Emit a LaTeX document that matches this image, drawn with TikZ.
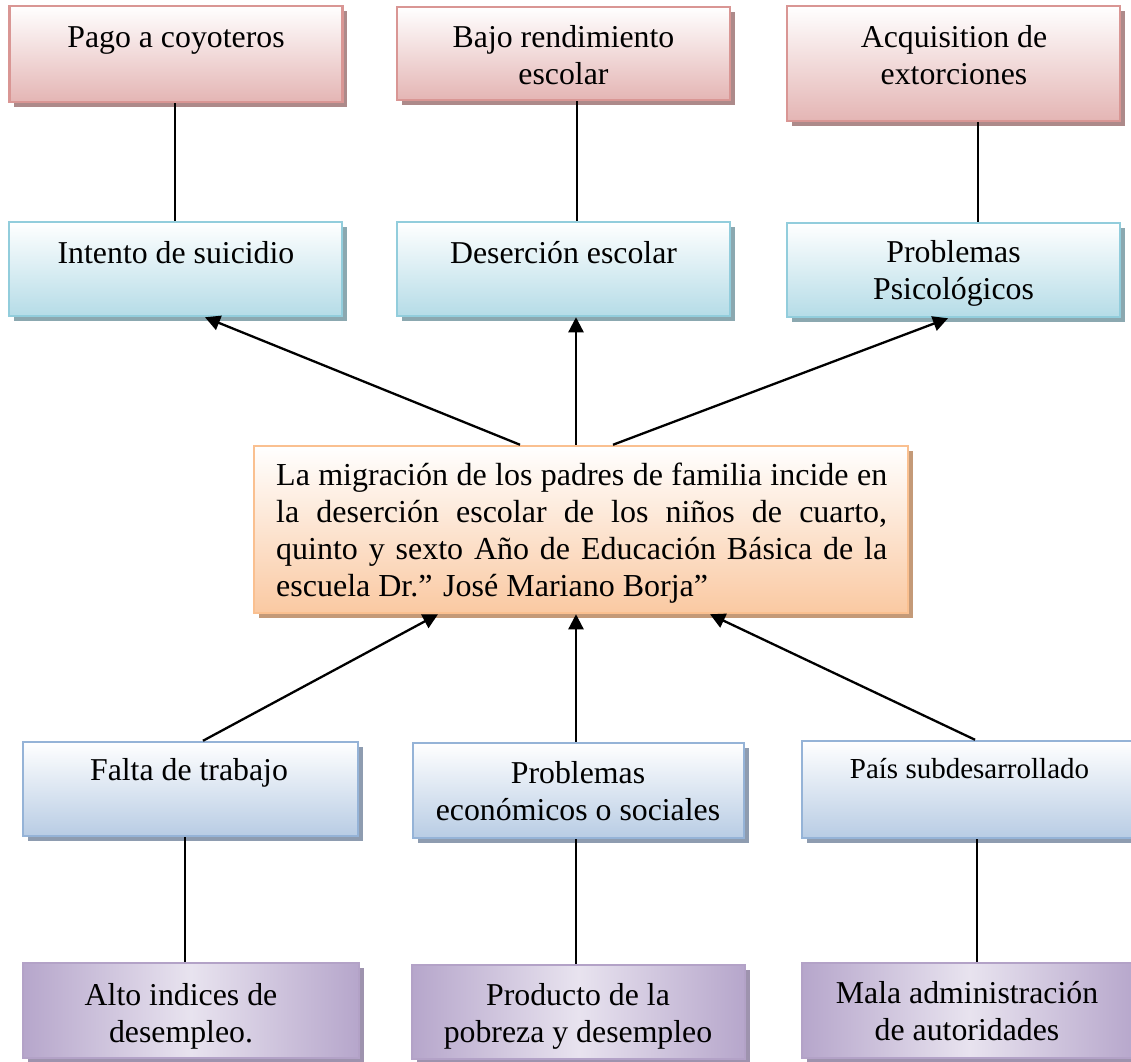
\documentclass[tikz,border=0pt]{standalone}
\usepackage{fontspec}
\setmainfont{Liberation Serif}
\usetikzlibrary{arrows.meta,shadows}
\definecolor{pinkborder}{HTML}{D99694}
\definecolor{pinkfill}{HTML}{E4B5B4}
\definecolor{pinkshadow}{HTML}{AD8A8A}
\definecolor{cyanborder}{HTML}{92CDDC}
\definecolor{cyanfill}{HTML}{B5DCE7}
\definecolor{cyanshadow}{HTML}{8BA8B0}
\definecolor{orangeborder}{HTML}{FAC090}
\definecolor{orangefill}{HTML}{FAC9A2}
\definecolor{orangeshadow}{HTML}{C49A78}
\definecolor{blueborder}{HTML}{95B3D7}
\definecolor{bluefill}{HTML}{B8CCE4}
\definecolor{blueshadow}{HTML}{8E9CB0}
\definecolor{purpleborder}{HTML}{B3A2C7}
\definecolor{purpleedge}{HTML}{B6A6CB}
\definecolor{purplelight}{HTML}{E8E3EF}
\definecolor{purpleshadow}{HTML}{9E93AE}
\tikzset{
  basebox/.style={rectangle, line width=2.5pt, inner sep=0pt, minimum width=333pt},
  pinkbox/.style={basebox, draw=pinkborder, top color=white, bottom color=pinkfill,
    general shadow={fill=pinkshadow, shadow xshift=4.5pt, shadow yshift=-4.5pt}},
  cyanbox/.style={basebox, draw=cyanborder, top color=white, bottom color=cyanfill,
    general shadow={fill=cyanshadow, shadow xshift=4.5pt, shadow yshift=-4.5pt}},
  orangebox/.style={basebox, draw=orangeborder, top color=white, bottom color=orangefill,
    general shadow={fill=orangeshadow, shadow xshift=4.5pt, shadow yshift=-4.5pt}},
  bluebox/.style={basebox, draw=blueborder, top color=white, bottom color=bluefill,
    general shadow={fill=blueshadow, shadow xshift=4.5pt, shadow yshift=-4.5pt}},
  purplebox/.style={basebox, draw=purpleborder, left color=purpleedge, right color=purpleedge, middle color=purplelight,
    general shadow={fill=purpleshadow, shadow xshift=4.5pt, shadow yshift=-4.5pt}},
  txt/.style={inner sep=0pt, anchor=base, font=\fontsize{31.8}{37.5}\selectfont},
  conn/.style={line width=2pt, draw=black},
  arr/.style={line width=2.3pt, draw=black, -{Triangle[length=15pt,width=15pt]}},
}
\newcommand{\twoline}[2]{\parbox[t]{330pt}{\centering #1\\#2}}
\begin{document}
\begin{tikzpicture}[x=1pt,y=-1pt]
\useasboundingbox (0,0) rectangle (1131,1061);
\clip (0,0) rectangle (1131,1061);

% top row (pink)
\node[pinkbox, minimum height=96pt] (T1) at (176,54) {};
\node[pinkbox, minimum height=93pt] (T2) at (563.5,53.5) {};
\node[pinkbox, minimum height=115pt] (T3) at (953.5,63.5) {};
\node[txt] (T1t) at (176,47) {Pago a coyoteros};
\node[txt] (T2t) at (563.5,47) {\twoline{Bajo rendimiento}{escolar}};
\node[txt] (T3t) at (954,47) {\twoline{Acquisition de}{extorciones}};

% second row (cyan)
\node[cyanbox, minimum height=94pt] (M1) at (175.5,269) {};
\node[cyanbox, minimum height=94pt] (M2) at (563.5,269) {};
\node[cyanbox, minimum height=94pt] (M3) at (953.5,270) {};
\node[txt] (M1t) at (176,263) {Intento de suicidio};
\node[txt] (M2t) at (563.5,263) {Deserción escolar};
\node[txt] (M3t) at (953.5,262) {\twoline{Problemas}{Psicológicos}};

% center (orange)
\node[orangebox, minimum width=654pt, minimum height=167pt] (C) at (581,529.5) {};
\node[inner sep=0pt, anchor=base west, font=\fontsize{32}{37}\selectfont] (Ct) at (276,485)
 {\parbox[t]{611pt}{\makebox[611pt][s]{La migración de los padres de familia incide en}\\
  \makebox[611pt][s]{la deserción escolar de los niños de cuarto,}\\
  \makebox[611pt][s]{quinto y sexto Año de Educación Básica de la}\\
  escuela Dr.” José Mariano Borja”}};

% third row (blue)
\node[bluebox, minimum width=335pt, minimum height=94pt] (B1) at (190.5,789) {};
\node[bluebox, minimum width=331pt, minimum height=95pt] (B2) at (578.5,790.5) {};
\node[bluebox, minimum width=335pt, minimum height=97pt] (B3) at (969.5,789.5) {};
\node[txt] (B1t) at (189,780) {Falta de trabajo};
\node[txt] (B2t) at (578,783) {\twoline{Problemas}{económicos o sociales}};
\node[txt, font=\fontsize{29}{35}\selectfont] (B3t) at (969.5,778) {País subdesarrollado};

% bottom row (purple)
\node[purplebox, minimum width=336pt, minimum height=95pt] (P1) at (191,1010.5) {};
\node[purplebox, minimum width=333pt, minimum height=94pt] (P2) at (578.5,1012) {};
\node[purplebox, minimum width=335pt, minimum height=95pt] (P3) at (969.5,1010.5) {};
\node[txt] (P1t) at (181,1005) {\twoline{Alto indices de}{desempleo.}};
\node[txt] (P2t) at (578,1005) {\twoline{Producto de la}{pobreza y desempleo}};
\node[txt] (P3t) at (967,1003) {\twoline{Mala administración}{de autoridades}};

% vertical connectors
\draw[conn] ([xshift=-1pt]T1.south) -- ([xshift=-0.5pt]M1.north);
\draw[conn] ([xshift=13.5pt]T2.south) -- ([xshift=13.5pt]M2.north);
\draw[conn] ([xshift=24.5pt]T3.south) -- ([xshift=24.5pt]M3.north);
\draw[conn] ([xshift=-5.5pt]B1.south) -- ([xshift=-6pt]P1.north);
\draw[conn] ([xshift=-2.5pt]B2.south) -- ([xshift=-2.5pt]P2.north);
\draw[conn] ([xshift=7.5pt]B3.south) -- ([xshift=7.5pt]P3.north);

% arrows
\draw[arr] ([xshift=-61pt]C.north) -- ([xshift=29.5pt]M1.south);
\draw[arr] ([xshift=-5pt]C.north) -- ([xshift=12.5pt]M2.south);
\draw[arr] ([xshift=32pt]C.north) -- ([xshift=-5.5pt]M3.south);
\draw[arr] ([xshift=12.5pt]B1.north) -- ([xshift=-143pt]C.south);
\draw[arr] ([xshift=-2.5pt]B2.north) -- ([xshift=-5pt]C.south);
\draw[arr] ([xshift=5.5pt]B3.north) -- ([xshift=129pt]C.south);
\end{tikzpicture}
\end{document}
